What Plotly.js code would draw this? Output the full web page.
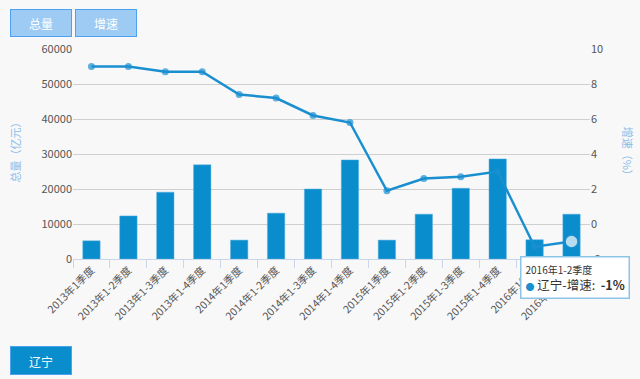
<!DOCTYPE html>
<html><head><meta charset="utf-8">
<script src="https://cdn.plot.ly/plotly-3.0.1.min.js"></script>
<style>
html,body{margin:0;padding:0;background:#f8f8f8;}
#chart{width:640px;height:379px;}
.btn{position:absolute;height:26px;line-height:26px;text-align:center;font-family:"Noto Sans CJK SC",sans-serif;font-size:12px;color:#fff;box-sizing:border-box;}
</style></head>
<body>
<div id="chart"></div>
<div class="btn" style="left:10px;top:9px;width:62px;height:28px;line-height:28px;background:#9ecbf3;border:1px solid #4da2f0;">总量</div>
<div class="btn" style="left:75px;top:9px;width:62px;height:28px;line-height:28px;background:#9ecbf3;border:1px solid #4da2f0;">增速</div>
<div class="btn" style="left:10px;top:346px;width:62px;height:29px;line-height:29px;background:#0a8dcc;border:1px solid #4da2f0;">辽宁</div>
<script>
const categories = ["2013年1季度","2013年1-2季度","2013年1-3季度","2013年1-4季度",
  "2014年1季度","2014年1-2季度","2014年1-3季度","2014年1-4季度",
  "2015年1季度","2015年1-2季度","2015年1-3季度","2015年1-4季度",
  "2016年1季度","2016年1-2季度"];
const totalValues = [5200,12300,19100,26900,5400,13100,20000,28300,5400,12800,20200,28600,5500,12800];
const growthValues = [9.0,9.0,8.7,8.7,7.4,7.2,6.2,5.8,1.9,2.6,2.7,3.0,-1.3,-1.0];
const leftTicks = [0,10000,20000,30000,40000,50000,60000];
const rightTicks = [-2,0,2,4,6,8,10];
const hoverIndex = 13;

const n = categories.length;
const markerFill = growthValues.map((v,i)=> i===hoverIndex ? '#ffffff' : '#1a8fd0');
const markerSize = growthValues.map((v,i)=> i===hoverIndex ? 13 : 7);
const markerLineW = growthValues.map((v,i)=> i===hoverIndex ? 1.5 : 0);

const font = '"Noto Sans CJK SC","Noto Sans",sans-serif';
const data = [
  {type:'bar', x:categories, y:totalValues, yaxis:'y', name:'辽宁-总量',
   marker:{color:'#0a8dcc', line:{color:'#5ab0e0', width:0.5}}, width:0.47, hoverinfo:'skip'},
  {type:'scatter', mode:'lines+markers', x:categories, y:growthValues, yaxis:'y2', name:'辽宁-增速',
   line:{color:'#1a8fd0', width:2.5},
   marker:{color:markerFill, size:markerSize, line:{color:'#1a8fd0', width:markerLineW}}, hoverinfo:'skip'}
];
const layout = {
  width:640, height:379,
  paper_bgcolor:'#f8f8f8', plot_bgcolor:'#f8f8f8',
  margin:{l:73, r:50, t:49, b:120},
  showlegend:false,
  font:{family:font, size:11, color:'#555'},
  xaxis:{type:'category', range:[-0.5, n-0.5], tickangle:-45, tickfont:{size:10.5, color:'#555'},
    showline:true, linecolor:'#ccd6eb', linewidth:1, ticks:'outside', tickcolor:'#ccd6eb', ticklen:8,
    tickson:'boundaries', showgrid:false, automargin:false, fixedrange:true},
  yaxis:{range:[0,60000], tickvals:leftTicks, ticktext:leftTicks.map(String), showgrid:true,
    gridcolor:'#cfcfcf', gridwidth:1, zeroline:false, tickfont:{size:11, color:'#555'},
    ticks:'', ticklen:0, automargin:false, fixedrange:true, layer:'below traces'},
  yaxis2:{range:[-2,10], tickvals:rightTicks, ticktext:rightTicks.map(String), overlaying:'y', side:'right',
    showgrid:false, zeroline:false, tickfont:{size:11, color:'#555'}, automargin:false, fixedrange:true},
  annotations:[
    {text:'总量（亿元）', xref:'paper', yref:'paper', x:-0.113, y:0.52, textangle:-90, showarrow:false,
     font:{size:11, color:'#8cbcea', family:font}, xanchor:'center', yanchor:'middle'},
    {text:'增速（%）', xref:'paper', yref:'paper', x:1.074, y:0.5, textangle:90, showarrow:false,
     font:{size:11, color:'#8cbcea', family:font}, xanchor:'center', yanchor:'middle'},
    {text:'<span style="font-size:10px">2016年1-2季度</span><br><span style="color:#1a8fd0;font-size:9px">●</span> 辽宁-增速:  <b>-1%</b>',
     x:categories[hoverIndex], y:growthValues[hoverIndex], xref:'x', yref:'y2',
     showarrow:true, arrowhead:0, arrowwidth:0.1, arrowcolor:'rgba(0,0,0,0)', ax:3, ay:36,
     align:'left', bgcolor:'#ffffff', bordercolor:'#8cc4e8', borderwidth:1.5, borderpad:4,
     font:{size:12.5, color:'#333', family:font}}
  ]
};
Plotly.newPlot('chart', data, layout, {displayModeBar:false, staticPlot:true});
</script>
</body></html>
